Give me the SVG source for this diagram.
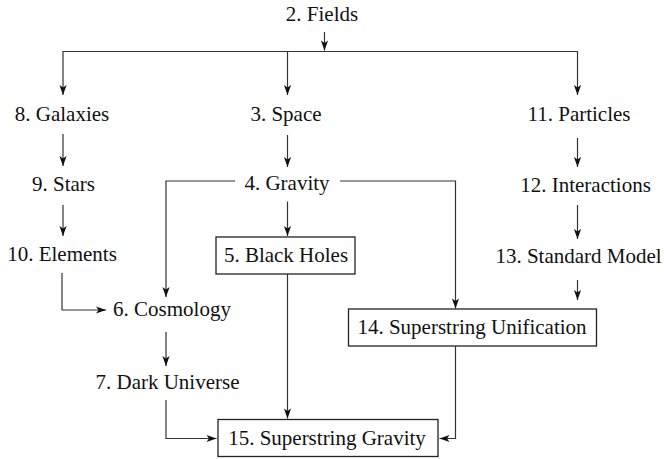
<svg xmlns="http://www.w3.org/2000/svg" width="664" height="459" viewBox="0 0 664 459">
<style>
text{font-family:'Liberation Serif','DejaVu Serif',serif;font-size:21px;fill:#111;text-anchor:middle}
.box{fill:#fff;stroke:#222;stroke-width:1.3}
.c path,.c line{fill:none;stroke:#333;stroke-width:1.2}
</style>
<defs>
<marker id="ah" markerUnits="userSpaceOnUse" markerWidth="12" markerHeight="10" viewBox="-11 -5 12 10" refX="0" refY="0" orient="auto">
<path d="M0,0 L-10,-3.6 L-7.5,0 L-10,3.6 Z" fill="#111" stroke="none"/>
</marker>
</defs>
<g class="c" id="connectors">
<line x1="62.5" y1="51.5" x2="578" y2="51.5"/>
<path d="M324.5,32 V50.5" marker-end="url(#ah)"/>
<path d="M63,51.5 V95" marker-end="url(#ah)"/>
<path d="M287.5,51.5 V95" marker-end="url(#ah)"/>
<path d="M577.5,51.5 V95" marker-end="url(#ah)"/>
<path d="M63,134 V166" marker-end="url(#ah)"/>
<path d="M287.5,135 V167" marker-end="url(#ah)"/>
<path d="M577.5,138 V167" marker-end="url(#ah)"/>
<path d="M63,205 V236" marker-end="url(#ah)"/>
<path d="M577.5,205 V239" marker-end="url(#ah)"/>
<path d="M287.5,201.5 V236" marker-end="url(#ah)"/>
<path d="M235,181 H166 V297" marker-end="url(#ah)"/>
<path d="M340,181 H455.5 V308.5" marker-end="url(#ah)"/>
<path d="M577.5,280 V300" marker-end="url(#ah)"/>
<path d="M62,273 V310 H106" marker-end="url(#ah)"/>
<path d="M166,332 V366" marker-end="url(#ah)"/>
<path d="M287.5,274 V418.5" marker-end="url(#ah)"/>
<path d="M166,400 V438.5 H216.5" marker-end="url(#ah)"/>
<path d="M455.5,346 V438.5 H439.5" marker-end="url(#ah)"/>
</g>
<g font-family="Liberation Serif, DejaVu Serif, serif">
<g id="n2"><text x="322" y="21">2. Fields</text></g>
<g id="n8"><text x="62" y="121">8. Galaxies</text></g>
<g id="n3"><text x="286" y="121">3. Space</text></g>
<g id="n11"><text x="579" y="121">11. Particles</text></g>
<g id="n9"><text x="63.5" y="191">9. Stars</text></g>
<g id="n4"><text x="287" y="190">4. Gravity</text></g>
<g id="n12"><text x="585.5" y="192">12. Interactions</text></g>
<g id="n10"><text x="62" y="261">10. Elements</text></g>
<g id="n5"><rect class="box" x="216" y="237" width="139" height="37"/><text x="286" y="262">5. Black Holes</text></g>
<g id="n13"><text x="578.5" y="263">13. Standard Model</text></g>
<g id="n6"><text x="172" y="316">6. Cosmology</text></g>
<g id="n14"><rect class="box" x="348.5" y="309" width="248" height="37"/><text x="472" y="334">14. Superstring Unification</text></g>
<g id="n7"><text x="167.5" y="389">7. Dark Universe</text></g>
<g id="n15"><rect class="box" x="218" y="419.5" width="220" height="37"/><text x="327" y="445">15. Superstring Gravity</text></g>
</g>
</svg>
